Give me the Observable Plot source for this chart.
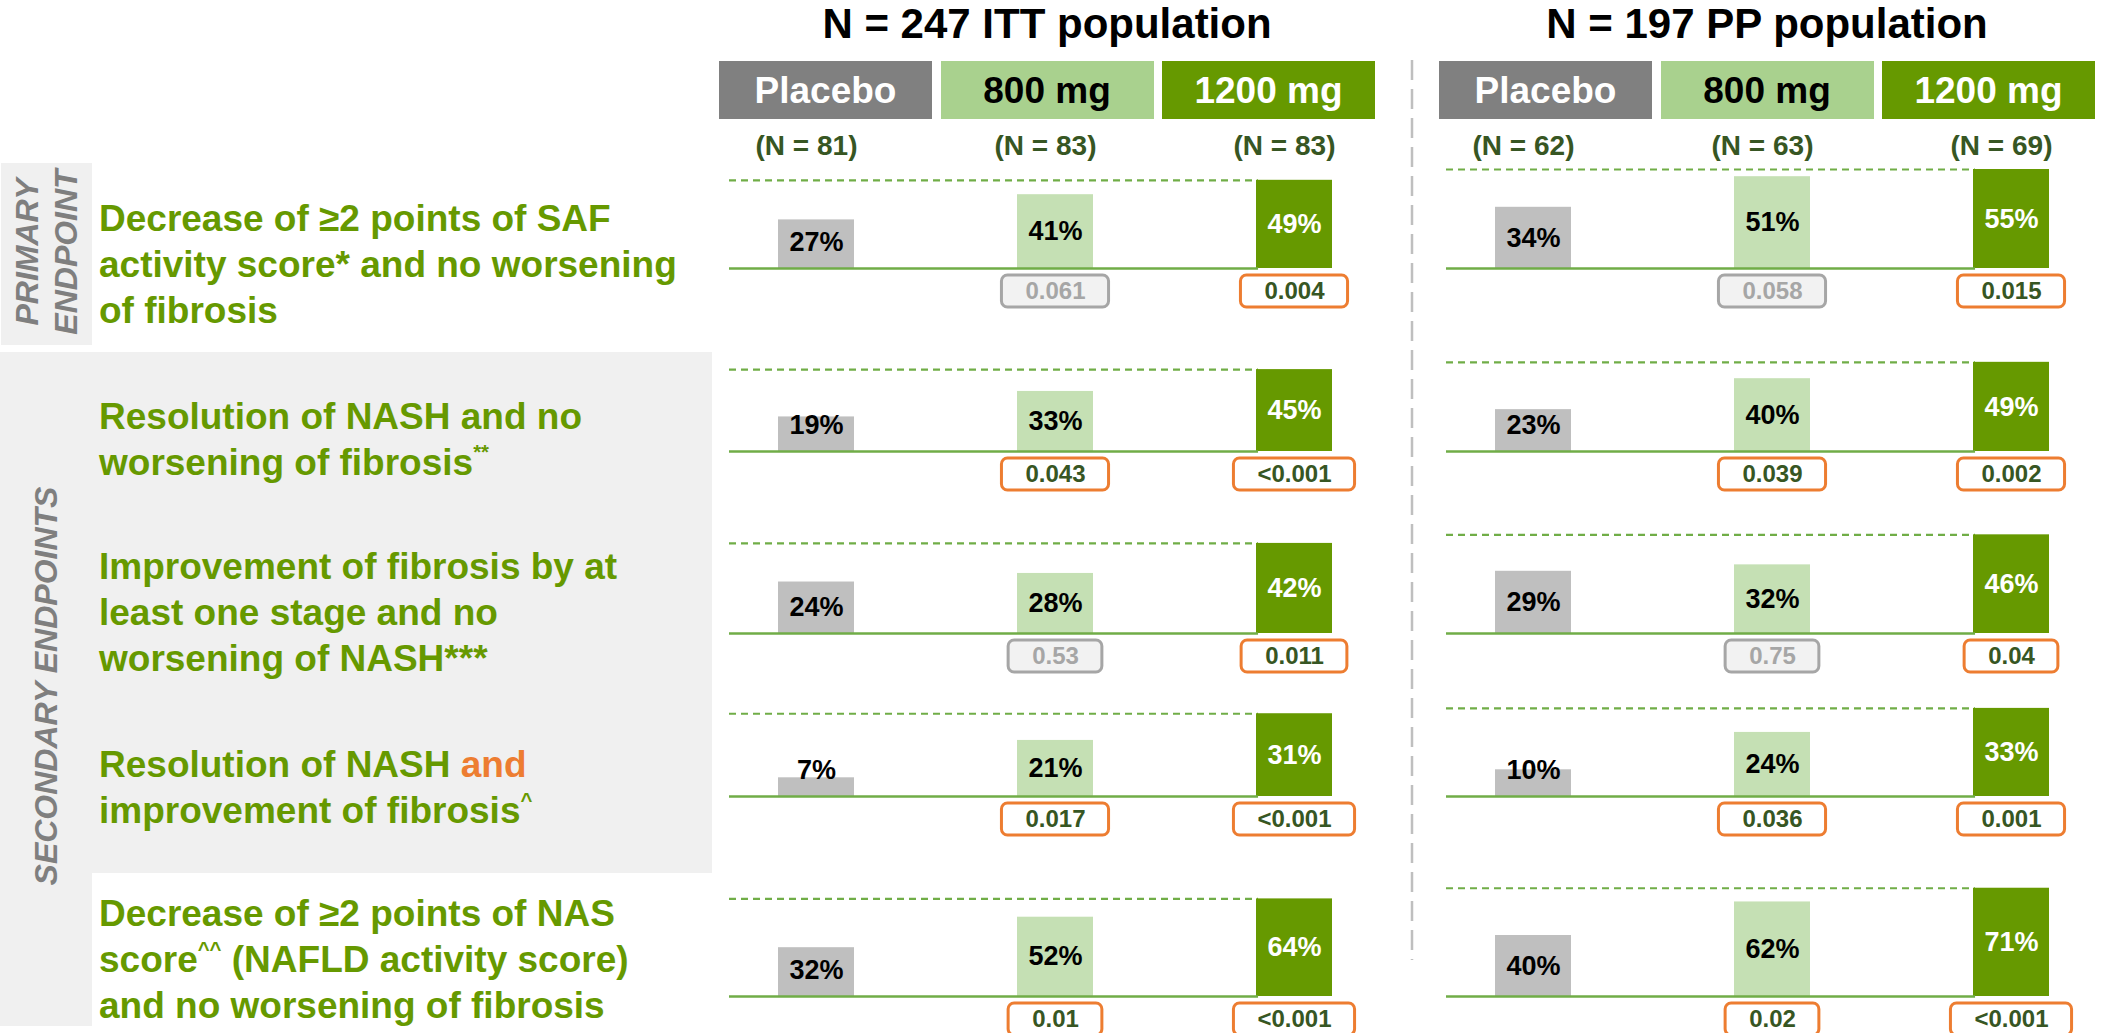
<!DOCTYPE html>
<html>
<head>
<meta charset="utf-8">
<script src="https://cdn.jsdelivr.net/npm/d3@7"></script>
<script src="https://cdn.jsdelivr.net/npm/@observablehq/plot@0.6"></script>
<style>
  html, body { margin: 0; padding: 0; background: #fff; }
  body { width: 2107px; height: 1033px; position: relative; overflow: hidden;
         font-family: "Liberation Sans", Arial, "Helvetica Neue", sans-serif; }
  .abs { position: absolute; }
  .panel-bg { position: absolute; background: #f0f0f0; }
  .title { position: absolute; text-align: center; font-weight: bold; font-size: 42px;
           line-height: 42px; color: #000; white-space: nowrap; }
  .cell { position: absolute; display: flex; align-items: center; justify-content: center;
          font-weight: bold; font-size: 37px; line-height: 37px; white-space: nowrap; }
  .endpoint { position: absolute; color: #669900; font-weight: bold; font-size: 37px;
              line-height: 45.7px; white-space: nowrap; }
  .endpoint sup { font-size: 0.55em; line-height: 0; vertical-align: 0.78em; }
  .endpoint .hl { color: #ed7d31; }
  .group { position: absolute; color: #7f7f7f; font-weight: bold; font-style: italic;
           font-size: 32px; line-height: 32px; white-space: nowrap;
           transform: translate(-50%, -50%) rotate(-90deg); }
</style>
</head>
<body>
<div id="chart"></div>
<script>
// ---- Data -----------------------------------------------------------------
const populations = ["ITT", "PP"];
const populationTitles = ["N = 247 ITT population", "N = 197 PP population"];
const doses = ["Placebo", "800 mg", "1200 mg"];
const ittN = [81, 83, 83];
const ppN = [62, 63, 69];

// Endpoint labels, one entry per line
const endpointLines = [
  ["Decrease of ≥2 points of SAF", "activity score* and no worsening", "of fibrosis"],
  ["Resolution of NASH and no", "worsening of fibrosis<sup>**</sup>"],
  ["Improvement of fibrosis by at", "least one stage and no", "worsening of NASH***"],
  ["Resolution of NASH <span class=\"hl\">and</span>", "improvement of fibrosis<sup>^</sup>"],
  ["Decrease of ≥2 points of NAS", "score<sup>^^</sup> (NAFLD activity score)", "and no worsening of fibrosis"]
];
const endpointGroups = [["PRIMARY", "ENDPOINT"], ["SECONDARY ENDPOINTS"]];

// Responder rates (%) per endpoint: Placebo, 800 mg, 1200 mg
const ittRates = [[27, 41, 49], [19, 33, 45], [24, 28, 42], [7, 21, 31], [32, 52, 64]];
const ppRates  = [[34, 51, 55], [23, 40, 49], [29, 32, 46], [10, 24, 33], [40, 62, 71]];

// p-values vs placebo: 800 mg, 1200 mg
const ittPValues = [["0.061", "0.004"], ["0.043", "<0.001"], ["0.53", "0.011"], ["0.017", "<0.001"], ["0.01", "<0.001"]];
const ppPValues  = [["0.058", "0.015"], ["0.039", "0.002"], ["0.75", "0.04"], ["0.036", "0.001"], ["0.02", "<0.001"]];

// ---- Styles & layout ------------------------------------------------------
const W = 2107;
const FONT = "Liberation Sans, Arial, sans-serif";
const barFill  = {"Placebo": "#bfbfbf", "800 mg": "#c5e0b4", "1200 mg": "#669900"};
const headFill = {"Placebo": "#808080", "800 mg": "#a9d18e", "1200 mg": "#669900"};
const headInk  = {"Placebo": "#ffffff", "800 mg": "#000000", "1200 mg": "#ffffff"};
const pctInk   = {"Placebo": "#000000", "800 mg": "#000000", "1200 mg": "#ffffff"};
const lineGreen = "#70ad47";

const xRange = [776, 2050];          // left edge of first bar .. right edge of last bar
const xPaddingInner = 0.683;
const rowBaselines = [268, 451, 633, 796, 996];
const rowPxPerPoint = [1.8, 1.82, 2.145, 2.67, 1.525];
const rowOffset = 135;                // baseline position inside each row svg
const rowHeight = 182;
const minLabelPx = 26;                // percent labels sit at least this far above the baseline
const pFontSize = 24;

const key = (pop, dose) => `${pop} · ${dose}`;
const xKeys = populations.flatMap(p => doses.map(d => key(p, d)));
const rates = {ITT: ittRates, PP: ppRates};
const pvals = {ITT: ittPValues, PP: ppPValues};
const groupN = {ITT: ittN, PP: ppN};
const pNumber = s => +s.replace("<", "");

const xOptions = {type: "band", domain: xKeys, range: xRange, paddingInner: xPaddingInner, paddingOuter: 0, align: 0.5, axis: null};
const bandwidth = (xRange[1] - xRange[0]) / (xKeys.length - xPaddingInner) * (1 - xPaddingInner);

const ctx = document.createElement("canvas").getContext("2d");
ctx.font = `bold ${pFontSize}px "Liberation Sans", Arial, sans-serif`;
const textWidth = s => ctx.measureText(s).width;

const root = document.getElementById("chart");
function place(node, left, top) {
  const wrap = document.createElement("div");
  wrap.className = "abs";
  wrap.style.left = left + "px";
  wrap.style.top = top + "px";
  wrap.appendChild(node);
  root.appendChild(wrap);
}
function div(cls, css, html) {
  const d = document.createElement("div");
  d.className = cls;
  Object.assign(d.style, css);
  if (html != null) d.innerHTML = html;
  root.appendChild(d);
  return d;
}

// ---- Left column: endpoint group panels and labels -----------------------
div("panel-bg", {left: "1px", top: "163px", width: "91px", height: "182px"});
div("panel-bg", {left: "0px", top: "352px", width: "712px", height: "521px"});
div("panel-bg", {left: "0px", top: "873px", width: "92px", height: "153px"});
div("group", {left: "27px", top: "252px"}, endpointGroups[0][0]);
div("group", {left: "66px", top: "252px"}, endpointGroups[0][1]);
div("group", {left: "46px", top: "686px"}, endpointGroups[1][0]);

endpointLines.forEach((lines, r) => {
  const firstBaseline = [232, 430, 580, 778, 927][r];
  div("endpoint", {left: "99px", top: (firstBaseline - 35.8) + "px"}, lines.join("<br>"));
});

// ---- Column headers ------------------------------------------------------
const groupLeft = [719, 1439];
const cellW = 213, cellGap = 8.5, cellTop = 61, cellH = 58;
populations.forEach((p, i) => {
  const gx = groupLeft[i];
  const gw = 3 * cellW + 2 * cellGap;
  div("title", {left: gx + "px", top: "3px", width: gw + "px"}, populationTitles[i]);
  doses.forEach((d, j) => {
    div("cell", {
      left: (gx + j * (cellW + cellGap)) + "px", top: cellTop + "px",
      width: cellW + "px", height: cellH + "px",
      background: headFill[d], color: headInk[d]
    }, d);
  });
});

// Group sizes under the headers
const nData = populations.flatMap(p => doses.map((d, j) => ({x: key(p, d), label: `(N = ${groupN[p][j]})`})));
place(Plot.plot({
  width: W, height: 40, margin: 0,
  style: {background: "transparent", overflow: "visible", fontFamily: FONT},
  x: xOptions,
  marks: [
    Plot.text(nData, {x: "x", text: "label", dx: -10, fill: "#375623", fontSize: 28, fontWeight: "bold"})
  ]
}), 0, 126);

// Divider between the two populations
const divider = document.createElementNS("http://www.w3.org/2000/svg", "svg");
divider.setAttribute("width", 6);
divider.setAttribute("height", 900);
divider.innerHTML = `<line x1="3" x2="3" y1="0" y2="900" stroke="#bfbfbf" stroke-width="2.5" stroke-dasharray="20,9"/>`;
place(divider, 1409, 60);

// ---- One bar row per endpoint --------------------------------------------
// rules run from just left of the placebo bar to the left edge of the 1200 mg bar
const ruleInsets = {insetLeft: -49, insetRight: bandwidth - 2};

rowBaselines.forEach((B, r) => {
  const k = rowPxPerPoint[r];
  const bars = populations.flatMap(p => doses.map((d, j) => ({
    pop: p, dose: d, x: key(p, d), value: rates[p][r][j]
  })));
  const refs = populations.map(p => ({
    x1: key(p, doses[0]), x2: key(p, doses[2]), top: rates[p][r][2]
  }));
  const ps = populations.flatMap(p => doses.slice(1).map((d, j) => {
    const text = pvals[p][r][j];
    return {x: key(p, d), text, sig: pNumber(text) < 0.05};
  }));

  const pBoxes = ps.map(d => {
    const inset = -(textWidth(d.text) + 47 - bandwidth) / 2;
    return Plot.barY([d], {
      x: "x", y1: 0, y2: 0,
      insetTop: 7, insetBottom: -39, insetLeft: inset, insetRight: inset,
      rx: 6, ry: 6,
      fill: d.sig ? "#ffffff" : "#f2f2f2",
      stroke: d.sig ? "#ed7d31" : "#a6a6a6",
      strokeWidth: 3
    });
  });

  const chart = Plot.plot({
    width: W, height: rowHeight, margin: 0,
    style: {background: "transparent", overflow: "visible", fontFamily: FONT},
    x: xOptions,
    y: {domain: [0, 100], range: [rowOffset, rowOffset - 100 * k], axis: null},
    color: {type: "identity"},
    marks: [
      // reference level of the 1200 mg arm
      Plot.ruleY(refs, {x1: "x1", x2: "x2", y: "top", stroke: lineGreen, strokeWidth: 2.2,
                        strokeDasharray: "7,5", ...ruleInsets}),
      Plot.barY(bars, {x: "x", y: "value", fill: d => barFill[d.dose]}),
      Plot.ruleY(refs, {x1: "x1", x2: "x2", y: 0, stroke: lineGreen, strokeWidth: 2.5, ...ruleInsets}),
      Plot.text(bars, {
        x: "x", y: d => Math.max(d.value / 2, minLabelPx / k),
        text: d => `${d.value}%`, fill: d => pctInk[d.dose],
        fontSize: 27, fontWeight: "bold"
      }),
      ...pBoxes,
      Plot.text(ps, {
        x: "x", y: 0, dy: 23, text: "text",
        fill: d => d.sig ? "#375623" : "#a6a6a6",
        fontSize: pFontSize, fontWeight: "bold"
      })
    ]
  });
  place(chart, 0, B - rowOffset);
});
</script>
</body>
</html>
